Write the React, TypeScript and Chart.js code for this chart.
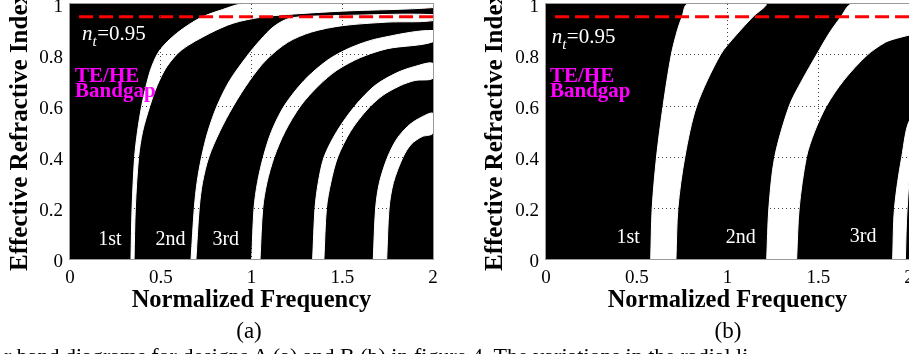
import React, { useEffect, useRef } from 'react';
import { Chart, registerables } from 'chart.js';
Chart.register(...registerables);

type Pt = [number, number];

// ---- axis ticks ----
const xTicks = [0, 0.5, 1, 1.5, 2];
const xTickLabels = ['0', '0.5', '1', '1.5', '2'];
const yTicks = [0, 0.2, 0.4, 0.6, 0.8, 1];
const yTickLabels = ['0', '0.2', '0.4', '0.6', '0.8', '1'];
const cutoffIndex = 0.95; // n_t
const cutoffText = '=0.95';

// ---- panel (a) band edges [normalized frequency, effective index] ----
const bandA1Upper: Pt[] = [[0.336, 0], [0.342, 0.2], [0.356, 0.4], [0.372, 0.5], [0.395, 0.6], [0.42, 0.68], [0.45, 0.754], [0.496, 0.82], [0.588, 0.885], [0.716, 0.945], [0.84, 0.978], [0.95, 1.0], [2.0, 1.0]];
const bandA1Lower: Pt[] = [[0.353, 0], [0.36, 0.2], [0.378, 0.4], [0.40, 0.5], [0.44, 0.6], [0.48, 0.68], [0.533, 0.754], [0.615, 0.82], [0.77, 0.885], [0.9, 0.925], [1.05, 0.948], [1.2, 0.959], [1.5, 0.972], [2.0, 0.986]];
const bandA2Upper: Pt[] = [[0.667, 0], [0.685, 0.2], [0.7, 0.3], [0.725, 0.4], [0.76, 0.5], [0.81, 0.6], [0.88, 0.7], [0.98, 0.8], [1.05, 0.86], [1.12, 0.91], [1.2, 0.942], [1.3, 0.951], [1.5, 0.955], [2.0, 0.958]];
const bandA2Lower: Pt[] = [[0.694, 0], [0.712, 0.2], [0.73, 0.3], [0.765, 0.4], [0.825, 0.5], [0.9, 0.6], [0.99, 0.7], [1.08, 0.78], [1.2, 0.85], [1.33, 0.89], [1.5, 0.915], [1.75, 0.929], [2.0, 0.935]];
const bandA3Upper: Pt[] = [[1.001, 0], [1.014, 0.2], [1.033, 0.3], [1.065, 0.4], [1.11, 0.5], [1.18, 0.6], [1.29, 0.7], [1.42, 0.78], [1.55, 0.83], [1.7, 0.865], [2.0, 0.896]];
const bandA3Lower: Pt[] = [[1.047, 0], [1.062, 0.2], [1.085, 0.3], [1.125, 0.4], [1.185, 0.5], [1.27, 0.6], [1.37, 0.68], [1.47, 0.74], [1.6, 0.79], [1.75, 0.825], [2.0, 0.852]];
const bandA4Upper: Pt[] = [[1.337, 0], [1.35, 0.2], [1.368, 0.3], [1.4, 0.4], [1.47, 0.5], [1.57, 0.6], [1.68, 0.68], [1.8, 0.73], [1.9, 0.755], [2.0, 0.767]];
const bandA4Lower: Pt[] = [[1.399, 0], [1.413, 0.2], [1.437, 0.3], [1.475, 0.4], [1.545, 0.5], [1.63, 0.58], [1.72, 0.64], [1.82, 0.68], [1.9, 0.7], [2.0, 0.709]];
const bandA5Upper: Pt[] = [[1.671, 0], [1.684, 0.2], [1.705, 0.3], [1.75, 0.4], [1.8, 0.47], [1.86, 0.52], [1.92, 0.55], [2.0, 0.571]];
const bandA5Lower: Pt[] = [[1.745, 0], [1.758, 0.2], [1.782, 0.3], [1.835, 0.4], [1.88, 0.45], [1.94, 0.48], [2.0, 0.493]];

// ---- panel (b) band edges ----
const bandB1Upper: Pt[] = [[0.577, 0], [0.585, 0.2], [0.609, 0.4], [0.645, 0.6], [0.69, 0.8], [0.725, 0.9], [0.75, 0.95], [0.78, 1.0]];
const bandB1Lower: Pt[] = [[0.716, 0], [0.727, 0.2], [0.765, 0.4], [0.83, 0.6], [0.96, 0.8], [1.05, 0.88], [1.14, 0.95], [1.21, 1.0]];
const bandB2Upper: Pt[] = [[1.216, 0], [1.228, 0.2], [1.26, 0.4], [1.34, 0.6], [1.41, 0.7], [1.49, 0.8], [1.56, 0.885], [1.625, 0.95], [1.684, 1.0], [2.1, 1.0]];
const bandB2Lower: Pt[] = [[1.381, 0], [1.395, 0.2], [1.435, 0.4], [1.48, 0.5], [1.545, 0.6], [1.64, 0.7], [1.77, 0.8], [1.87, 0.85], [1.93, 0.865], [2.0, 0.878], [2.1, 0.9]];
const bandB3Upper: Pt[] = [[1.91, 0], [1.92, 0.2], [1.96, 0.4], [2.01, 0.55]];
const bandB3Lower: Pt[] = [[1.98, 0], [1.99, 0.2], [2.02, 0.4], [2.1, 0.5]];

// ---- annotation texts ----
const orderLabels = ['1st', '2nd', '3rd'];
const orderFreqA = [0.22, 0.554, 0.858];
const orderIndexA = [0.055, 0.055, 0.055];
const orderFreqB = [0.453, 1.073, 1.747];
const orderIndexB = [0.063, 0.063, 0.068];
const gapLines = ['TE/HE', 'Bandgap'];
const xTitle = 'Normalized Frequency';
const yTitle = 'Effective Refractive Index';

const SERIF = '"Liberation Serif", "Times New Roman", serif';

type Panel = {
  bands: [Pt[], Pt[]][];
  dashStart: number;
  orderFreq: number[];
  orderIndex: number[];
  ntFreq: number;
  ntIndex: number;
  gapFreq: number;
  gapIndex: number[];
  yAxisWidth: number;
  yTitlePad: number;
  rightPad: number;
};

const panelA: Panel = {
  bands: [[bandA1Upper, bandA1Lower], [bandA2Upper, bandA2Lower], [bandA3Upper, bandA3Lower], [bandA4Upper, bandA4Lower], [bandA5Upper, bandA5Lower]],
  dashStart: 0.05,
  orderFreq: orderFreqA,
  orderIndex: orderIndexA,
  ntFreq: 0.066,
  ntIndex: 0.859,
  gapFreq: 0.028,
  gapIndex: [0.695, 0.636],
  yAxisWidth: 70,
  yTitlePad: 5.3,
  rightPad: 27,
};

const panelB: Panel = {
  bands: [[bandB1Upper, bandB1Lower], [bandB2Upper, bandB2Lower], [bandB3Upper, bandB3Lower]],
  dashStart: 0.05,
  orderFreq: orderFreqB,
  orderIndex: orderIndexB,
  ntFreq: 0.031,
  ntIndex: 0.846,
  gapFreq: 0.022,
  gapIndex: [0.695, 0.636],
  yAxisWidth: 86,
  yTitlePad: 20.3,
  rightPad: 51,
};

const bgPlugin = {
  id: 'blackBg',
  beforeDatasetsDraw(chart: any) {
    const { ctx, chartArea: a } = chart;
    ctx.save();
    ctx.fillStyle = '#000';
    ctx.fillRect(a.left, a.top, a.right - a.left, a.bottom - a.top);
    ctx.restore();
  },
};

function makeTextPlugin(p: Panel) {
  return {
    id: 'texts',
    afterDraw(chart: any) {
      const { ctx, chartArea: a } = chart;
      const x = chart.scales.x;
      const y = chart.scales.y;
      ctx.save();
      // frame
      ctx.strokeStyle = '#9a9a9a';
      ctx.lineWidth = 1;
      ctx.strokeRect(Math.round(a.left) - 0.5, Math.round(a.top) - 0.5, Math.round(a.right - a.left) + 1, Math.round(a.bottom - a.top) + 1);
      // order labels
      ctx.fillStyle = '#fff';
      ctx.font = `20px ${SERIF}`;
      ctx.textAlign = 'center';
      ctx.textBaseline = 'alphabetic';
      orderLabels.forEach((t, i) => {
        ctx.fillText(t, x.getPixelForValue(p.orderFreq[i]), y.getPixelForValue(p.orderIndex[i]));
      });
      // n_t = 0.95
      ctx.textAlign = 'left';
      let px = x.getPixelForValue(p.ntFreq);
      const py = y.getPixelForValue(p.ntIndex);
      ctx.font = `italic 21px ${SERIF}`;
      ctx.fillText('n', px, py);
      px += ctx.measureText('n').width;
      ctx.font = `italic 15px ${SERIF}`;
      ctx.fillText('t', px, py + 6);
      px += ctx.measureText('t').width + 0.5;
      ctx.font = `21px ${SERIF}`;
      ctx.fillText(cutoffText, px, py);
      // bandgap label
      ctx.fillStyle = '#ff00ff';
      ctx.font = `bold 21px ${SERIF}`;
      gapLines.forEach((t, i) => {
        ctx.fillText(t, x.getPixelForValue(p.gapFreq), y.getPixelForValue(p.gapIndex[i]));
      });
      ctx.restore();
    },
  };
}

function buildConfig(p: Panel): any {
  const datasets: any[] = [];
  datasets.push({
    data: [{ x: p.dashStart, y: cutoffIndex }, { x: 2, y: cutoffIndex }],
    showLine: true,
    borderColor: '#ff0000',
    borderWidth: 3,
    borderDash: [14, 6],
    pointRadius: 0,
    fill: false,
  });
  p.bands.forEach(([up, lo]) => {
    const poly = [...up, ...lo.slice().reverse()].map(([fx, ny]) => ({ x: fx, y: ny }));
    datasets.push({
      data: poly,
      showLine: true,
      borderColor: '#ffffff',
      borderWidth: 1,
      backgroundColor: '#ffffff',
      fill: 'shape',
      pointRadius: 0,
      tension: 0.3,
    });
  });
  const gridColor = (max: number) => (c: any) =>
    c.tick && (c.tick.value === 0 || c.tick.value === max) ? 'rgba(0,0,0,0)' : 'rgba(0,0,0,0.75)';
  return {
    type: 'scatter',
    data: { datasets },
    options: {
      animation: false,
      responsive: false,
      maintainAspectRatio: false,
      layout: { padding: { left: 0, top: 4, right: p.rightPad, bottom: 0 } },
      plugins: { legend: { display: false }, tooltip: { enabled: false } },
      scales: {
        x: {
          type: 'linear',
          min: 0,
          max: 2,
          afterBuildTicks: (s: any) => { s.ticks = xTicks.map((v) => ({ value: v })); },
          afterFit: (s: any) => { s.height = 61; s.paddingLeft = 0; s.paddingRight = 0; },
          ticks: {
            padding: 8, color: '#000', font: { family: SERIF, size: 19 }, maxRotation: 0, autoSkip: false,
            callback: (_v: any, i: number) => xTickLabels[i],
          },
          grid: { color: gridColor(2), lineWidth: 1, drawTicks: false, z: 1 },
          border: { display: false, dash: [1, 3] },
          title: { display: true, text: xTitle, color: '#000', font: { family: SERIF, size: 24.5, weight: 'bold' }, padding: { top: 0, bottom: 5 } },
        },
        y: {
          type: 'linear',
          min: 0,
          max: 1,
          afterBuildTicks: (s: any) => { s.ticks = yTicks.map((v) => ({ value: v })); },
          afterFit: (s: any) => { s.width = p.yAxisWidth; s.paddingTop = 0; s.paddingBottom = 0; },
          ticks: {
            padding: 7, labelOffset: 3, color: '#000', font: { family: SERIF, size: 19 }, autoSkip: false,
            callback: (_v: any, i: number) => yTickLabels[i],
          },
          grid: { color: gridColor(1), lineWidth: 1, drawTicks: false, z: 1 },
          border: { display: false, dash: [1, 3] },
          title: { display: true, text: yTitle, color: '#000', font: { family: SERIF, size: 25, weight: 'bold' }, padding: { top: p.yTitlePad, bottom: 0 } },
        },
      },
    },
    plugins: [bgPlugin, makeTextPlugin(p)],
  };
}

function BandChart({ panel, width, left }: { panel: Panel; width: number; left: number }) {
  const ref = useRef<HTMLCanvasElement | null>(null);
  useEffect(() => {
    if (!ref.current) return;
    const chart = new Chart(ref.current, buildConfig(panel));
    return () => chart.destroy();
  }, [panel]);
  return (
    <canvas
      ref={ref}
      width={width}
      height={320}
      style={{ position: 'absolute', left, top: 0, width, height: 320, display: 'block' }}
    />
  );
}

export default function App() {
  return (
    <div style={{ position: 'fixed', left: 0, top: 0, width: 909, height: 354, overflow: 'hidden', background: '#fff', fontFamily: SERIF }}>
      <BandChart panel={panelA} width={460} left={0} />
      <BandChart panel={panelB} width={500} left={460} />
      <div style={{ position: 'absolute', left: 249, top: 318, transform: 'translateX(-50%)', fontSize: 23, lineHeight: '26px', color: '#000', whiteSpace: 'nowrap' }}>(a)</div>
      <div style={{ position: 'absolute', left: 728, top: 318, transform: 'translateX(-50%)', fontSize: 23, lineHeight: '26px', color: '#000', whiteSpace: 'nowrap' }}>(b)</div>
      <div style={{ position: 'absolute', left: 4, top: 343, fontSize: 22, lineHeight: '26px', color: '#000', whiteSpace: 'nowrap' }}>
        r band diagrams for designs A (a) and B (b) in figure 4. The variations in the radial li
      </div>
    </div>
  );
}
